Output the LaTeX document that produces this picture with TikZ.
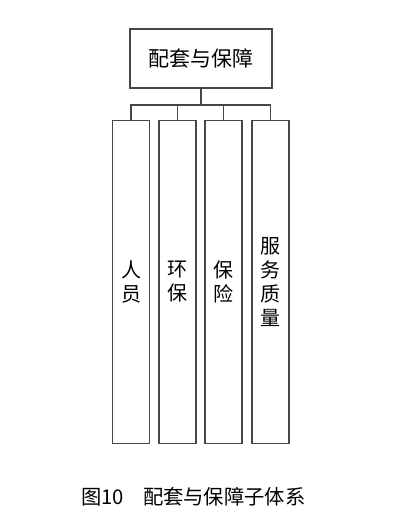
\documentclass[tikz,border=0pt]{standalone}
\usepackage{fontspec}
\setmainfont{Noto Sans CJK SC}
\begin{document}
\begin{tikzpicture}[x=1pt,y=-1pt,
  boxline/.style={draw=black!72,line width=1.8pt},
  colbox/.style={boxline,minimum width=37pt,minimum height=323pt,inner sep=0pt,align=center,font=\fontsize{20}{24}\selectfont},
  conn/.style={draw=black!72,line width=1.8pt}]
\useasboundingbox (0,0) rectangle (414,523);
\node[boxline,minimum width=142pt,minimum height=59pt,inner sep=0pt,font=\fontsize{21}{24}\selectfont] (top) at (201,58.5) {配套与保障};
\node[colbox] (c1) at (131,282) {人\\员};
\node[colbox] (c2) at (177.5,282) {环\\保};
\node[colbox] (c3) at (223.5,282) {保\\险};
\node[colbox] (c4) at (270.5,282) {服\\务\\质\\量};
\coordinate (bus) at (201,105);
\draw[conn] (top.south) -- (bus);
\draw[conn] (c1.north) |- (bus) -| (c4.north);
\draw[conn] (c2.north) -- (c2.north |- bus);
\draw[conn] (c3.north) -- (c3.north |- bus);
\node[anchor=west,inner sep=0pt,font=\fontsize{20.3}{22}\selectfont] (cap) at (81,497) {图10\hspace{19pt}配套与保障子体系};
\end{tikzpicture}
\end{document}
